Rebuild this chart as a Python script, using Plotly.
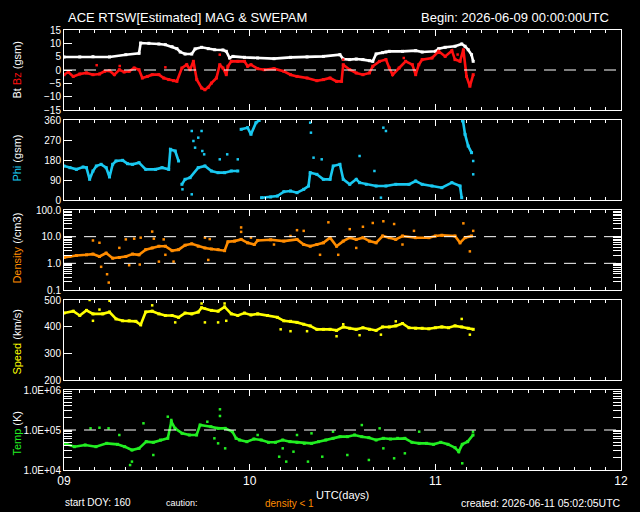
import plotly.graph_objects as go
from plotly.subplots import make_subplots

# ---------------- data (days of month, UTC) ----------------
bt_t = [9.000, 9.085, 9.156, 9.245, 9.333, 9.404, 9.413, 9.457, 9.511, 9.546, 9.582, 9.608, 9.626,
        9.652, 9.688, 9.706, 9.741, 9.777, 9.812, 9.856, 9.874, 9.892, 9.910, 9.972, 10.043, 10.131,
        10.220, 10.309, 10.397, 10.486, 10.504, 10.539, 10.574, 10.610, 10.645, 10.663, 10.681, 10.716,
        10.734, 10.752, 10.823, 10.894, 10.929, 11.000, 11.018, 11.053, 11.106, 11.142, 11.160, 11.177,
        11.195, 11.204]
bt_v = [4.9, 4.9, 5.0, 4.9, 5.75, 6.25, 10.1, 10.0, 9.75, 9.5, 8.75, 8.0, 6.75, 6.0, 6.0, 7.9, 8.5,
        8.0, 7.6, 7.5, 7.0, 4.5, 5.1, 4.75, 4.5, 4.25, 4.75, 4.9, 5.1, 5.75, 4.1, 3.9, 4.1, 3.9, 3.5,
        3.25, 6.0, 6.5, 6.75, 7.0, 7.0, 7.25, 6.75, 7.0, 8.0, 8.5, 8.9, 9.75, 8.9, 7.6, 5.75, 3.25]

bz_t = [9.000, 9.023, 9.050, 9.085, 9.121, 9.156, 9.191, 9.218, 9.245, 9.271, 9.298, 9.324, 9.351,
        9.378, 9.404, 9.422, 9.449, 9.475, 9.511, 9.537, 9.564, 9.590, 9.608, 9.635, 9.661, 9.679,
        9.697, 9.715, 9.741, 9.759, 9.777, 9.794, 9.821, 9.839, 9.856, 9.874, 9.883, 9.901, 9.936,
        9.972, 9.989, 10.007, 10.043, 10.078, 10.131, 10.184, 10.220, 10.255, 10.309, 10.362, 10.397,
        10.433, 10.468, 10.495, 10.504, 10.539, 10.574, 10.610, 10.645, 10.663, 10.699, 10.734, 10.752,
        10.770, 10.805, 10.840, 10.876, 10.894, 10.911, 10.929, 10.982, 11.018, 11.053, 11.089, 11.106,
        11.133, 11.151, 11.168, 11.186, 11.204]
bz_v = [-1.75, -0.75, -2.4, -1.5, -1.1, -1.75, -1.5, -0.5, -0.25, -1.75, 0.1, -0.75, -0.5, 0.75, 0.1,
        -3.0, -2.4, -1.75, -1.75, -3.0, -3.6, -4.0, -4.25, 0.75, 2.0, 0.1, 3.25, -3.6, -6.75, -7.4,
        -6.5, -4.9, -3.0, 2.0, 0.75, -1.75, 1.4, 3.25, 3.25, 3.25, 1.4, 2.0, 0.5, 0.1, 0.5, -0.5,
        -1.75, -2.4, -3.0, -4.0, -3.6, -3.0, -4.25, -4.25, 2.0, 0.1, -1.1, -1.75, -1.1, 1.4, 3.25, 3.9,
        0.75, -1.75, 0.75, 3.25, 2.0, -1.75, 2.0, 3.9, 4.5, 7.0, 5.1, 7.25, 3.9, 3.25, 7.6, -2.4,
        -6.1, -1.75]
bz_out_t = [9.546, 9.839, 10.504, 9.176, 9.300, 10.830, 11.120]
bz_out_v = [1.0, 5.75, 3.9, 1.8, 1.5, 4.5, 5.8]

phi_t = [9.000, 9.032, 9.067, 9.103, 9.121, 9.138, 9.156, 9.174, 9.200, 9.227, 9.245, 9.262, 9.280,
         9.316, 9.342, 9.369, 9.404, 9.440, 9.493, 9.528, 9.564, 9.573, 9.599, 9.617, 9.635, 9.652,
         9.679, 9.723, 9.759, 9.794, 9.830, 9.865, 9.901, 9.936, 9.954, 9.989, 10.007, 10.034, 10.051,
         10.064, 10.113, 10.149, 10.184, 10.220, 10.255, 10.291, 10.317, 10.326, 10.362, 10.397,
         10.433, 10.450, 10.486, 10.504, 10.539, 10.574, 10.592, 10.628, 10.681, 10.734, 10.787,
         10.858, 10.894, 10.929, 10.982, 11.035, 11.089, 11.133, 11.142, 11.149, 11.160, 11.177, 11.195]
phi_v = [153, 145.5, 138, 148.5, 145.5, 93, 130.5, 153, 160.5, 145.5, 103.5, 160.5, 175.5, 178.5,
         163.5, 160.5, 168, 138, 138, 145.5, 138, 228, 220.5, 175.5, 70.5, 93, 100.5, 145.5, 153,
         130.5, 123, 123, 130.5, 130.5, 318, 325.5, 295.5, 348, 358, 10.5, 13.5, 18, 37.5, 40.5, 33,
         48, 63, 123, 115.5, 93, 93, 153, 160.5, 93, 70.5, 93, 78, 70.5, 63, 63, 70.5, 70.5, 85.5,
         70.5, 63, 55.5, 78, 63, 10.5, 355.5, 295.5, 243, 213]
phi_out_t = [9.688, 9.697, 9.706, 9.723, 9.741, 9.745, 9.755, 9.839, 9.879, 9.936, 10.326, 10.330,
             10.344, 10.388, 10.592, 10.672, 10.720, 10.734, 10.707, 11.204, 11.204, 11.145, 9.688, 9.638]
phi_out_v = [310.5, 265.5, 235.5, 280.5, 310.5, 220.5, 205.5, 183, 205.5, 183, 348, 303, 190.5, 183,
             198, 130.5, 325.5, 310.5, 10.5, 175.5, 115.5, 355.5, 25.5, 48]

den_t = [9.000, 9.032, 9.067, 9.121, 9.156, 9.191, 9.227, 9.262, 9.298, 9.333, 9.369, 9.404, 9.440,
         9.475, 9.511, 9.546, 9.582, 9.617, 9.652, 9.688, 9.723, 9.759, 9.794, 9.830, 9.865, 9.883,
         9.918, 9.954, 9.989, 10.025, 10.043, 10.113, 10.184, 10.255, 10.291, 10.326, 10.362, 10.397,
         10.433, 10.468, 10.504, 10.539, 10.574, 10.610, 10.645, 10.681, 10.716, 10.752, 10.787,
         10.823, 10.894, 10.965, 11.000, 11.035, 11.106, 11.133, 11.160, 11.195]
den_v = [1.65, 1.80, 1.97, 2.09, 2.22, 1.80, 2.42, 1.56, 1.65, 1.80, 2.22, 2.09, 3.26, 3.78, 4.38,
         4.38, 2.98, 3.26, 4.78, 5.38, 4.38, 3.78, 3.45, 3.26, 2.98, 6.43, 6.81, 7.89, 5.88, 5.07,
         7.22, 7.67, 6.81, 7.89, 5.07, 4.38, 5.07, 5.88, 9.16, 4.38, 6.81, 9.16, 7.89, 9.16, 6.81,
         5.88, 10.6, 9.16, 7.89, 10.6, 9.16, 9.16, 10.6, 11.3, 10.6, 5.88, 9.16, 10.6]
den_out_t = [9.156, 9.191, 9.200, 9.232, 9.241, 9.298, 9.333, 9.351, 9.378, 9.408, 9.413, 9.475,
             9.484, 9.537, 9.511, 9.590, 9.546, 9.759, 9.785, 9.777, 9.954, 9.954, 10.007, 10.255,
             10.291, 10.379, 10.424, 10.477, 10.539, 10.610, 10.663, 10.720, 10.778, 10.885, 10.823,
             11.151, 11.186, 11.204, 10.220, 10.131, 10.574]
den_out_v = [7.2, 5.9, 0.74, 0.39, 0.19, 3.8, 7.9, 0.85, 8.4, 0.9, 9.2, 15.5, 8.4, 7.9, 1.16, 1.16,
             2.09, 9.2, 8.1, 1.34, 22.2, 15.1, 9.2, 17.5, 16.5, 2.09, 34.5, 2.09, 19.1, 23.5, 32.6,
             37.8, 29.8, 16.5, 5.07, 31.6, 2.81, 16.5, 10.6, 5.07, 3.78]

spd_t = [9.000, 9.050, 9.085, 9.121, 9.156, 9.209, 9.245, 9.280, 9.316, 9.351, 9.387, 9.413, 9.440,
         9.475, 9.511, 9.546, 9.582, 9.617, 9.652, 9.688, 9.723, 9.741, 9.794, 9.830, 9.865, 9.901,
         9.936, 9.972, 10.007, 10.043, 10.096, 10.149, 10.184, 10.220, 10.255, 10.291, 10.326, 10.362,
         10.397, 10.433, 10.468, 10.504, 10.539, 10.574, 10.610, 10.645, 10.681, 10.716, 10.752,
         10.787, 10.823, 10.858, 10.894, 10.929, 10.965, 11.000, 11.035, 11.071, 11.106, 11.142,
         11.177, 11.204]
spd_v = [451, 458, 442, 461, 448, 448, 455, 429, 422, 422, 420, 407, 455, 458, 448, 442, 442, 435,
         451, 448, 455, 471, 461, 458, 474, 448, 442, 451, 444, 448, 442, 435, 422, 420, 416, 409,
         403, 390, 390, 390, 386, 399, 394, 390, 396, 390, 386, 399, 399, 403, 412, 396, 394, 394,
         392, 396, 399, 396, 403, 399, 394, 390]
spd_out_t = [9.138, 9.245, 9.156, 9.475, 9.599, 9.741, 9.759, 9.830, 9.865, 9.874, 10.167, 10.220,
             10.309, 10.468, 10.592, 10.707, 10.787, 11.142, 11.186, 10.504, 9.191, 9.759]
spd_out_v = [500, 497, 422, 480, 416, 487, 416, 416, 487, 422, 390, 383, 383, 364, 368, 370, 420, 429,
             370, 409, 464, 468]

tmp_t = [9.000, 9.056, 9.114, 9.172, 9.230, 9.288, 9.327, 9.366, 9.404, 9.443, 9.481, 9.520, 9.559,
         9.578, 9.598, 9.636, 9.675, 9.714, 9.733, 9.791, 9.830, 9.868, 9.907, 9.927, 9.946, 9.985,
         10.023, 10.062, 10.101, 10.139, 10.178, 10.217, 10.255, 10.294, 10.333, 10.371, 10.410,
         10.449, 10.487, 10.526, 10.565, 10.604, 10.642, 10.681, 10.720, 10.758, 10.797, 10.836,
         10.874, 10.913, 10.952, 10.990, 11.029, 11.068, 11.106, 11.126, 11.145, 11.174, 11.203]
tmp_v = [46400, 38300, 42200, 38300, 46400, 43800, 38300, 31600, 34800, 51100, 49200, 56200, 61900,
         161000, 110000, 82500, 75000, 75000, 133000, 121000, 110000, 110000, 90900, 61900, 56200,
         51100, 59600, 56200, 49200, 49200, 56200, 51100, 49200, 46400, 46400, 51100, 56200, 61900,
         68100, 68100, 75000, 68100, 64300, 56200, 61900, 59600, 61900, 61900, 49200, 46400, 46400,
         43800, 49200, 43800, 36100, 28700, 43800, 51100, 75000]
tmp_out_t = [9.143, 9.191, 9.240, 9.298, 9.356, 9.366, 9.428, 9.481, 9.559, 9.578, 9.840, 9.840,
             9.830, 9.868, 9.772, 9.810, 10.159, 10.197, 10.236, 10.314, 10.391, 10.449, 10.526,
             10.604, 10.642, 10.700, 10.778, 10.836, 11.145, 11.203, 10.913, 10.333, 10.255, 10.043,
             10.178, 10.720]
tmp_out_v = [110000, 114000, 110000, 75000, 13300, 16200, 147000, 23700, 215000, 178000, 329000,
             224000, 46400, 34800, 161000, 61900, 21500, 16200, 28700, 16200, 21500, 90900, 23700,
             133000, 17800, 110000, 19600, 26100, 14700, 90900, 90900, 82500, 75000, 75000, 34800, 34800]

day_ticks = [9, 10, 11, 12]
day_labels = ["09", "10", "11", "12"]
den_ticks = [0.1, 1, 10, 100]
den_labels = ["0.1", "1.0", "10.0", "100.0"]
tmp_ticks = [1e4, 1e5, 1e6]
tmp_labels = ["1.0E+04", "1.0E+05", "1.0E+06"]

# ---------------- style ----------------
FONT = "Liberation Sans, Arial, sans-serif"
WHITE = "#ffffff"
C_BZ = "#ff1010"
C_PHI = "#19c8f0"
C_DEN = "#ff8c00"
C_SPD = "#ffff00"
C_TMP = "#22ee22"

fig = make_subplots(rows=5, cols=1, shared_xaxes=True, vertical_spacing=10 / 440)


def band(t, v, color, row, width=2.6):
    fig.add_trace(go.Scatter(x=t, y=v, mode="lines+markers",
                             line=dict(color=color, width=width),
                             marker=dict(color=color, size=3, symbol="square"),
                             showlegend=False, hoverinfo="skip", connectgaps=False),
                  row=row, col=1)


def dots(t, v, color, row):
    fig.add_trace(go.Scatter(x=t, y=v, mode="markers",
                             marker=dict(color=color, size=2.5, symbol="square"),
                             showlegend=False, hoverinfo="skip"),
                  row=row, col=1)


def wrap_breaks(t, v, jump=100):
    tt, vv = [t[0]], [v[0]]
    for i in range(1, len(t)):
        if abs(v[i] - v[i - 1]) > jump:
            tt.append(None)
            vv.append(None)
        tt.append(t[i])
        vv.append(v[i])
    return tt, vv


# panel 1
band(bt_t, bt_v, WHITE, 1)
band(bz_t, bz_v, C_BZ, 1)
dots(bz_out_t, bz_out_v, C_BZ, 1)
# panel 2
pt, pv = wrap_breaks(phi_t, phi_v)
band(pt, pv, C_PHI, 2)
dots(phi_out_t, phi_out_v, C_PHI, 2)
# panel 3
band(den_t, den_v, C_DEN, 3)
dots(den_out_t, den_out_v, C_DEN, 3)
# panel 4
band(spd_t, spd_v, C_SPD, 4)
dots(spd_out_t, spd_out_v, C_SPD, 4)
# panel 5
band(tmp_t, tmp_v, C_TMP, 5)
dots(tmp_out_t, tmp_out_v, C_TMP, 5)

# density < 1 flags under the bottom panel
low_t = [t for t, n in zip(den_out_t, den_out_v) if n < 1]
fig.add_trace(go.Scatter(x=low_t, y=[10 ** 3.9] * len(low_t), mode="markers",
                         marker=dict(color=C_DEN, size=2.5, symbol="square"),
                         cliponaxis=False, showlegend=False, hoverinfo="skip"), row=5, col=1)

# reference dashed lines
dash = "12px,8px"
fig.add_hline(y=0, line=dict(color=WHITE, width=1, dash=dash), row=1, col=1)
fig.add_hline(y=1, line=dict(color=WHITE, width=1, dash=dash), row=3, col=1)
fig.add_hline(y=10, line=dict(color=WHITE, width=1, dash=dash), row=3, col=1)
fig.add_hline(y=1e5, line=dict(color=WHITE, width=1, dash=dash), row=5, col=1)

tickfont = dict(color=WHITE, size=10, family=FONT)
for r in range(1, 6):
    fig.update_xaxes(row=r, col=1, range=[9, 12], showline=True, linecolor=WHITE, linewidth=1,
                     mirror="allticks", ticks="inside", tickvals=day_ticks, ticktext=day_labels,
                     ticklen=6, tickcolor=WHITE, tickwidth=1,
                     minor=dict(ticks="inside", ticklen=3, tick0=9, dtick=1 / 12,
                                tickcolor=WHITE, tickwidth=1),
                     showgrid=False, zeroline=False, showticklabels=(r == 5),
                     tickfont=dict(color=WHITE, size=12, family=FONT))


def log_ticks(majors, labels):
    """major decades labelled, 2..9 sub-decade ticks unlabelled"""
    vals, text_ = [], []
    for i, (m, lab) in enumerate(zip(majors, labels)):
        vals.append(m)
        text_.append(lab)
        if i < len(majors) - 1:
            for k in range(2, 10):
                vals.append(m * k)
                text_.append("")
    return vals, text_


common_y = dict(showline=True, linecolor=WHITE, linewidth=1, ticks="inside", ticklen=8,
                tickcolor=WHITE, tickwidth=1, showgrid=False, zeroline=False, tickfont=tickfont)
fig.update_yaxes(row=1, col=1, range=[-15, 15], tickvals=[-15, -10, -5, 0, 5, 10, 15],
                 mirror=True, **common_y)
fig.update_yaxes(row=2, col=1, range=[0, 360], tickvals=[0, 90, 180, 270, 360],
                 mirror=True, **common_y)
dv, dtx = log_ticks(den_ticks, den_labels)
fig.update_yaxes(row=3, col=1, type="log", range=[-1, 2], tickvals=dv, ticktext=dtx,
                 mirror="allticks", **common_y)
fig.update_yaxes(row=4, col=1, range=[200, 500], tickvals=[200, 300, 400, 500],
                 mirror=True, **common_y)
tv, ttx = log_ticks(tmp_ticks, tmp_labels)
fig.update_yaxes(row=5, col=1, type="log", range=[4, 6], tickvals=tv, ticktext=ttx,
                 mirror="allticks", **common_y)


def px(x):
    return (x - 64) / 564


def py(y):
    return (470 - y) / 440


ann = []


def text(x, y, s, size=13, anchor="left", color=WHITE, angle=0):
    ann.append(dict(x=px(x), y=py(y), xref="paper", yref="paper", text=s, showarrow=False,
                    xanchor=anchor, yanchor="middle", textangle=angle,
                    font=dict(color=color, size=size, family=FONT)))


text(66, 18, "ACE RTSW[Estimated] MAG &amp; SWEPAM", size=13)
text(618, 18, "Begin: 2026-06-09 00:00:00UTC", size=13, anchor="right")

ytitles = [
    (70, f'Bt <span style="color:{C_BZ}">Bz</span> (gsm)'),
    (158, f'<span style="color:{C_PHI}">Phi</span> (gsm)'),
    (248, f'<span style="color:{C_DEN}">Density</span> (/cm3)'),
    (342, f'<span style="color:{C_SPD}">Speed</span> (km/s)'),
    (433, f'<span style="color:{C_TMP}">Temp</span> (K)'),
]
for yc, s in ytitles:
    text(16, yc, s, size=11, anchor="center", angle=-90)

text(346, 495, "UTC(days)", size=11, anchor="center")
text(63, 502, "start DOY: 160", size=10)
text(165, 503, "caution:", size=9)
text(266, 503, "density &lt; 1", size=10, color=C_DEN)
text(630, 503, "created: 2026-06-11 05:02:05UTC", size=10.5, anchor="right")

fig.update_layout(width=640, height=512, margin=dict(l=64, r=12, t=30, b=42),
                  paper_bgcolor="black", plot_bgcolor="black", showlegend=False,
                  annotations=ann, font=dict(family=FONT, color=WHITE))

fig.write_html("out.html")
